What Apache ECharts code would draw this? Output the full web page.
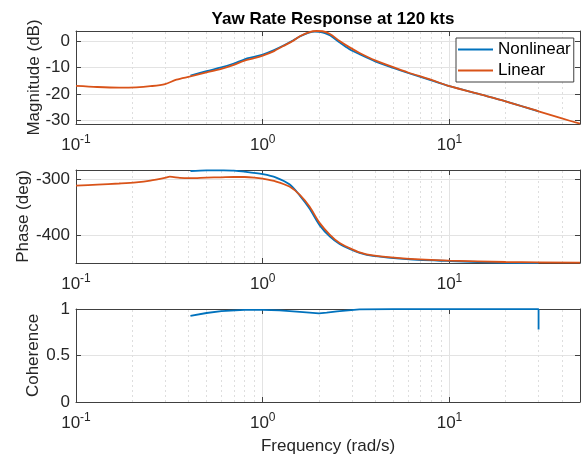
<!DOCTYPE html>
<html>
<head>
<meta charset="utf-8">
<script src="https://cdn.jsdelivr.net/npm/echarts@6/dist/echarts.min.js"></script>
<style>html,body{margin:0;padding:0;background:#fff}#c{width:584px;height:459px}</style>
</head>
<body>
<div id="c"></div>
<script>
// ---- data ----
const titleText = 'Yaw Rate Response at 120 kts';
const seriesNames = ['Nonlinear', 'Linear'];
const xTickLabels = ['10^-1', '10^0', '10^1'];

const linFreq  = [0.1, 0.13, 0.17, 0.21, 0.25, 0.3, 0.345, 0.41, 0.5, 0.6, 0.7, 0.8, 0.9, 1.0, 1.15, 1.28, 1.45, 1.58, 1.78, 1.94, 2.09, 2.29, 2.58, 2.92, 3.3, 4, 5, 6, 8, 10, 15, 20, 30, 40, 50];
const linMag   = [-16.9, -17.3, -17.5, -17.4, -17.0, -16.2, -14.5, -13.3, -11.8, -10.4, -8.9, -7.3, -6.4, -5.4, -3.7, -1.9, 0.1, 1.9, 3.5, 3.9, 3.8, 2.8, 0.1, -2.3, -4.4, -7.2, -9.8, -11.8, -14.6, -17.0, -20.3, -22.7, -26.5, -29.2, -31.2];

const linPhFreq = [0.1, 0.13, 0.17, 0.21, 0.25, 0.3, 0.318, 0.36, 0.41, 0.5, 0.6, 0.7, 0.8, 0.9, 1.0, 1.18, 1.39, 1.58, 1.78, 2.02, 2.29, 2.58, 2.92, 3.3, 3.89, 5.86, 10, 20, 50];
const linPhase  = [-311.3, -309.5, -307.5, -305.5, -302.5, -297.5, -295.4, -297.5, -298, -297, -296.5, -296, -296, -297, -299, -304, -313, -327.8, -348.6, -378, -398.8, -413.5, -422.5, -430, -435.5, -441.3, -444.9, -447.2, -448.5];

const nlFreq  = [0.41, 0.5, 0.6, 0.7, 0.8, 0.9, 1.0, 1.15, 1.3, 1.45, 1.6, 1.75, 1.9, 2.0, 2.15, 2.3, 2.6, 2.9, 3.3, 4, 5, 6, 8, 10, 15, 20, 30];
const nlMag   = [-13.0, -11.3, -9.9, -8.4, -6.8, -5.9, -5.0, -3.3, -1.5, 0.3, 2.0, 3.2, 3.7, 3.6, 3.1, 2.2, -0.6, -2.9, -4.9, -7.6, -10.1, -12.0, -14.8, -17.0, -20.3, -22.7, -26.5];

const nlPhFreq = [0.41, 0.5, 0.6, 0.7, 0.8, 1.0, 1.18, 1.39, 1.58, 1.78, 2.02, 2.29, 2.58, 2.92, 3.3, 3.89, 5.86, 10, 20, 30];
const nlPhase  = [-285.3, -284, -284.2, -284.7, -286.5, -291, -297, -309, -329, -352, -382, -402, -415, -424, -431, -436.5, -442, -445.5, -448.6, -449.5];

const cohFreq = [0.41, 0.5, 0.6, 0.8, 1.0, 1.23, 1.58, 2.0, 2.2, 2.5, 3.3, 5, 10, 20, 30, 30];
const cohVal  = [0.925, 0.957, 0.978, 0.99, 0.99, 0.985, 0.968, 0.952, 0.96, 0.975, 0.995, 0.998, 0.998, 0.998, 0.998, 0.78];

// ---- styling / layout ----
const FONT = 'Liberation Sans, Arial, Helvetica, sans-serif';
const BLUE = '#0072BD', ORANGE = '#D95319';
const AXC = '#404040', TXT = '#262626';
const xMin = 0.1, xMax = 50;
const grids = [
  {left: 76, top: 31, width: 504, height: 93},
  {left: 76, top: 170, width: 504, height: 93},
  {left: 76, top: 309, width: 504, height: 93}
];
const yRanges = [[-31.3, 3.9, 10], [-449, -283.5, 100], [0, 1, 0.5]];
const yNames = ['Magnitude (dB)', 'Phase (deg)', 'Coherence'];
const yNameGaps = [33, 44, 34];

// minor grid positions from the log axis decades
const minorX = [];
for (let d = -1; d <= 1; d++) for (let k = 2; k <= 9; k++) { const v = k * Math.pow(10, d); if (v < xMax) minorX.push(+v.toPrecision(3)); }

const pairs = (xs, ys) => xs.map((x, i) => [x, ys[i]]);

function xLabel(v) {
  const e = Math.log10(v);
  if (Math.abs(e - Math.round(e)) > 1e-6) return '';
  const lbl = xTickLabels.find(s => s === '10^' + Math.round(e));
  if (!lbl) return '';
  const p = lbl.split('^');
  return '{b|' + p[0] + '}{s|' + p[1] + '}';
}

const xAxes = [], yAxes = [];
grids.forEach((g, i) => {
  xAxes.push({
    type: 'log', logBase: 10, gridIndex: i, min: xMin, max: xMax, position: 'bottom',
    name: i === 2 ? 'Frequency (rad/s)' : '', nameLocation: 'middle', nameGap: 36, nameMoveOverlap: false,
    nameTextStyle: {fontFamily: FONT, fontSize: 17, color: TXT},
    axisLine: {show: true, onZero: false, lineStyle: {color: AXC, width: 1}},
    axisTick: {show: true, inside: true, length: 5, lineStyle: {color: AXC}},
    axisLabel: {show: true, margin: 10, formatter: xLabel, showMinLabel: true, showMaxLabel: true,
      rich: {b: {fontFamily: FONT, fontSize: 17, color: TXT, verticalAlign: 'bottom'},
             s: {fontFamily: FONT, fontSize: 12, color: TXT, verticalAlign: 'bottom', padding: [0, 0, 8, 0]}}},
    splitLine: {show: true, lineStyle: {color: '#e3e3e3', width: 1}},
    minorTick: {show: false}
  });
  xAxes.push({
    type: 'log', logBase: 10, gridIndex: i, min: xMin, max: xMax, position: 'top',
    axisLine: {show: true, onZero: false, lineStyle: {color: AXC, width: 1}},
    axisTick: {show: true, inside: true, length: 5, lineStyle: {color: AXC}},
    axisLabel: {show: false}, splitLine: {show: false}
  });
  const r = yRanges[i];
  yAxes.push({
    type: 'value', gridIndex: i, min: r[0], max: r[1], splitNumber: Math.round((r[1] - r[0]) / r[2]) ,
    name: yNames[i], nameLocation: 'middle', nameGap: yNameGaps[i], nameMoveOverlap: false,
    nameTextStyle: {fontFamily: FONT, fontSize: 17, color: TXT},
    axisLine: {show: true, onZero: false, lineStyle: {color: AXC, width: 1}},
    axisTick: {show: true, inside: true, length: 5, lineStyle: {color: AXC}},
    axisLabel: {fontFamily: FONT, fontSize: 17, color: TXT, margin: 6,
      formatter: v => { const q = v / r[2]; return Math.abs(q - Math.round(q)) < 1e-6 ? String(+v.toFixed(2)) : ''; }},
    splitLine: {show: true, lineStyle: {color: '#e3e3e3', width: 1}}
  });
  yAxes.push({
    type: 'value', gridIndex: i, min: r[0], max: r[1], position: 'right', splitNumber: Math.round((r[1] - r[0]) / r[2]),
    axisLine: {show: true, onZero: false, lineStyle: {color: AXC, width: 1}},
    axisTick: {show: true, inside: true, length: 5, lineStyle: {color: AXC}},
    axisLabel: {show: false}, splitLine: {show: false}
  });
});

function minorSeries(i) {
  return {
    type: 'line', xAxisIndex: 2 * i, yAxisIndex: 2 * i, data: [], silent: true, z: 1,
    markLine: {silent: true, z: 1, symbol: ['none', 'none'], label: {show: false},
      lineStyle: {color: '#dedede', type: [2, 3], width: 1},
      emphasis: {disabled: true},
      data: minorX.map(v => ({xAxis: v}))}
  };
}
function lineSeries(name, i, data, color) {
  return {name, type: 'line', xAxisIndex: 2 * i, yAxisIndex: 2 * i, data, showSymbol: false, symbol: 'none',
    smooth: 0.3, clip: true, z: 3, lineStyle: {color, width: 1.8}, itemStyle: {color}, animation: false};
}

const option = {
  animation: false,
  title: {text: titleText, left: 328, textAlign: 'center', top: 6,
    textStyle: {fontFamily: FONT, fontSize: 17, fontWeight: 'bold', color: '#000'}},
  legend: {
    data: seriesNames, orient: 'vertical', left: 456, top: 38,
    icon: 'rect', itemWidth: 35, itemHeight: 2, itemGap: 4,
    padding: [3, 3, 3, 2], backgroundColor: '#fff', borderColor: AXC, borderWidth: 1,
    textStyle: {fontFamily: FONT, fontSize: 17, color: '#000'}
  },
  grid: grids,
  xAxis: xAxes,
  yAxis: yAxes,
  series: [
    minorSeries(0), minorSeries(1), minorSeries(2),
    lineSeries(seriesNames[0], 0, pairs(nlFreq, nlMag), BLUE),
    lineSeries(seriesNames[1], 0, pairs(linFreq, linMag), ORANGE),
    lineSeries(seriesNames[0], 1, pairs(nlPhFreq, nlPhase), BLUE),
    lineSeries(seriesNames[1], 1, pairs(linPhFreq, linPhase), ORANGE),
    Object.assign(lineSeries('Coherence', 2, pairs(cohFreq, cohVal), BLUE), {smooth: false})
  ]
};
const chart = echarts.init(document.getElementById('c'), null, {renderer: 'canvas'});
chart.setOption(option);
</script>
</body>
</html>
